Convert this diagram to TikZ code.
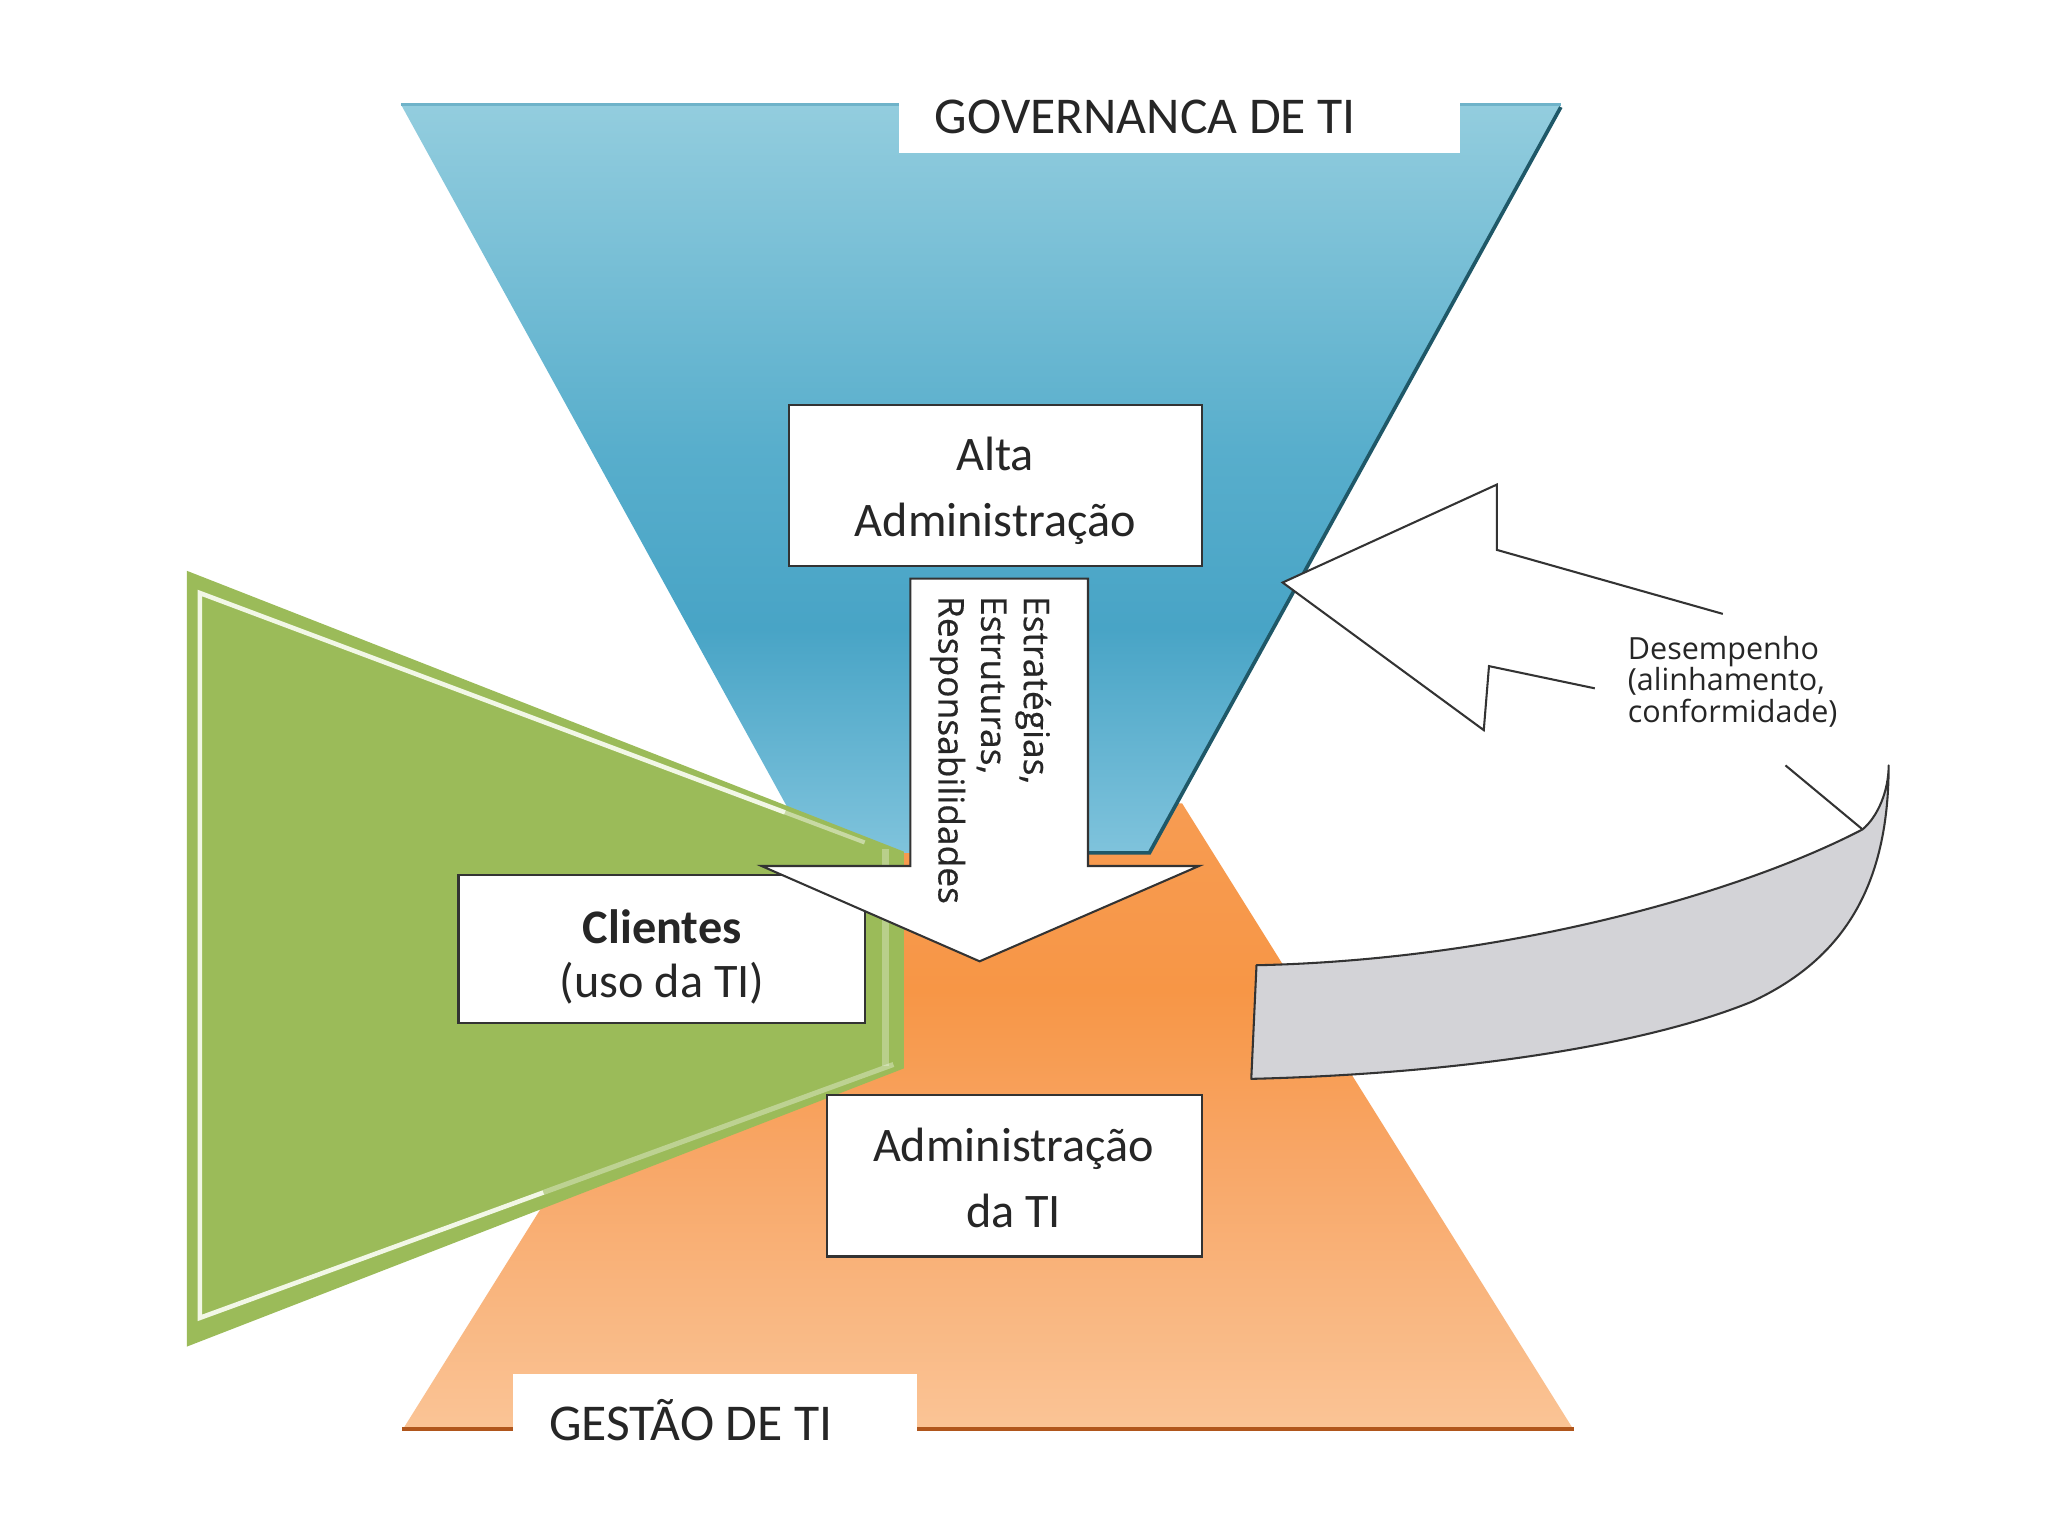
\documentclass[tikz,border=0pt]{standalone}
\usepackage{fontspec}
\setmainfont{Carlito}
\newfontfamily\osans{Open Sans}
\newfontfamily\osansm[FakeBold=0.5]{Open Sans}
\definecolor{txt}{HTML}{262626}
\definecolor{blueEdge}{HTML}{1F5868}
\definecolor{blueTopLine}{HTML}{6FB3C9}
\definecolor{orgEdge}{HTML}{B0561C}
\definecolor{grn}{HTML}{9BBB59}
\definecolor{grnLine}{HTML}{F2F7E6}
\definecolor{rib}{HTML}{D3D3D7}
\definecolor{edge}{HTML}{333333}
% path bounding box maps to 25bp..75bp of the 100bp shading
\pgfdeclareverticalshading{blueshade}{100bp}{
  color(0bp)=(rgb,255:red,127;green,195;blue,220);
  color(25bp)=(rgb,255:red,127;green,195;blue,220);
  color(40bp)=(rgb,255:red,72;green,164;blue,198);
  color(52bp)=(rgb,255:red,88;green,174;blue,204);
  color(75bp)=(rgb,255:red,147;green,205;blue,222);
  color(100bp)=(rgb,255:red,147;green,205;blue,222)}
\pgfdeclareverticalshading{orangeshade}{100bp}{
  color(0bp)=(rgb,255:red,250;green,196;blue,150);
  color(25bp)=(rgb,255:red,250;green,196;blue,150);
  color(47bp)=(rgb,255:red,248;green,166;blue,102);
  color(60bp)=(rgb,255:red,247;green,150;blue,70);
  color(75bp)=(rgb,255:red,247;green,156;blue,82);
  color(100bp)=(rgb,255:red,247;green,156;blue,82)}
\tikzset{
  boxnode/.style={draw=edge, line width=0.9pt, fill=white, inner sep=0pt},
  lbl/.style={text=txt, font=\fontsize{21}{29}\selectfont, inner sep=0pt, anchor=base},
  biglbl/.style={text=txt, font=\fontsize{22.5}{29}\selectfont, inner sep=0pt, anchor=base},
  outl/.style={draw=edge, line width=0.9pt, line join=miter},
}
\begin{document}
\begin{tikzpicture}[x=0.02cm, y=-0.02cm]
\useasboundingbox (0,0) rectangle (1568,1176);
\fill[white] (0,0) rectangle (1568,1176);

% orange trapezoid (Gestao)
\path[shading=orangeshade]
  (608,615) -- (905,615) -- (1205,1095) -- (308,1095) -- cycle;
\draw[orgEdge, line width=1.8pt] (308,1094) -- (1205,1094);

% blue inverted trapezoid (Governanca)
\path[shading=blueshade]
  (307,80) -- (1195,80) -- (880,653) -- (622,653) -- cycle;
\draw[blueEdge, line width=1.6pt, line join=miter] (1195,82) -- (880,653) -- (833,653);
\draw[blueTopLine, line width=1pt] (307,80) -- (1195,80);

% Governanca label
\fill[white] (688,78) rectangle (1118,117);
\node[biglbl] (gov) at (877,102) {GOVERNANCA DE TI};

% Alta administracao box
\node[boxnode, minimum width=6.32cm, minimum height=2.46cm] (alta) at (762,371.5) {};
\node[lbl] (alta1) at (762,360) {Alta};
\node[lbl] (alta2) at (762,411) {Administração};

% green triangle (Clientes)
\fill[grn] (143,437) -- (692,652) -- (692,818) -- (143,1031) -- cycle;
\draw[grnLine, line width=2pt] (601,622) -- (153,454) -- (153,1009) -- (416,913);
\draw[white, opacity=0.45, line width=1.8pt] (601,622) -- (662,645);
\draw[white, opacity=0.35, line width=2.2pt] (416,913) -- (684,815);
\draw[white, opacity=0.3, line width=3pt] (678,650) -- (678,816);

% Clientes box
\node[boxnode, minimum width=6.22cm, minimum height=2.26cm] (cli) at (506.5,726.5) {};
\node[lbl, font=\fontsize{21}{29}\selectfont\bfseries] (cli1) at (507,722) {Clientes};
\node[lbl] (cli2) at (507,764) {(uso da TI)};

% white down arrow
\draw[outl, fill=white] (697,443) -- (833,443) -- (833,663) -- (918,663) -- (750,736)
  -- (583,663) -- (697,663) -- cycle;
\node[rotate=-90, anchor=north west, align=left, inner sep=0pt, text=txt,
  font=\osansm\fontsize{15.4}{18.6}\selectfont] (estr) at (805,456)
  {Estratégias,\\Estruturas,\\Responsabilidades};

% Administracao da TI box
\node[boxnode, minimum width=5.74cm, minimum height=2.48cm] (adm) at (776.5,900) {};
\node[lbl] (adm1) at (776,889) {Administração};
\node[lbl] (adm2) at (776,940) {da TI};

% Gestao label
\fill[white] (393,1052) rectangle (702,1110);
\node[biglbl] (ges) at (529,1103) {GESTÃO DE TI};

% grey ribbon
\draw[draw=edge, line width=0.9pt, fill=rib, line join=round]
  (962,739) .. controls (1150,735) and (1330,685) .. (1426,635)
  .. controls (1438,625) and (1446,605) .. (1446,586)
  .. controls (1446,680) and (1410,735) .. (1341,767)
  .. controls (1260,800) and (1120,822) .. (958,826) -- cycle;
\coordinate (ribtop) at (1426,635);
\coordinate (ribback) at (1367,586);
\draw[edge, line width=0.9pt] (ribback) -- (ribtop);

% white feedback arrow
\path[fill=white, draw=edge, line width=0.9pt, line join=miter]
  (1319,470) -- (1146,421) -- (1146,371) -- (982,446) -- (1136,559) -- (1140,510) -- (1221,527);

% Desempenho text
\node[anchor=base west, align=left, inner sep=0pt, text=txt,
  font=\osans\fontsize{13.3}{24.3}\selectfont] (des) at (1246,553)
  {Desempenho\\[-10.6pt](alinhamento,\\[-10.6pt]conformidade)};
\end{tikzpicture}
\end{document}
